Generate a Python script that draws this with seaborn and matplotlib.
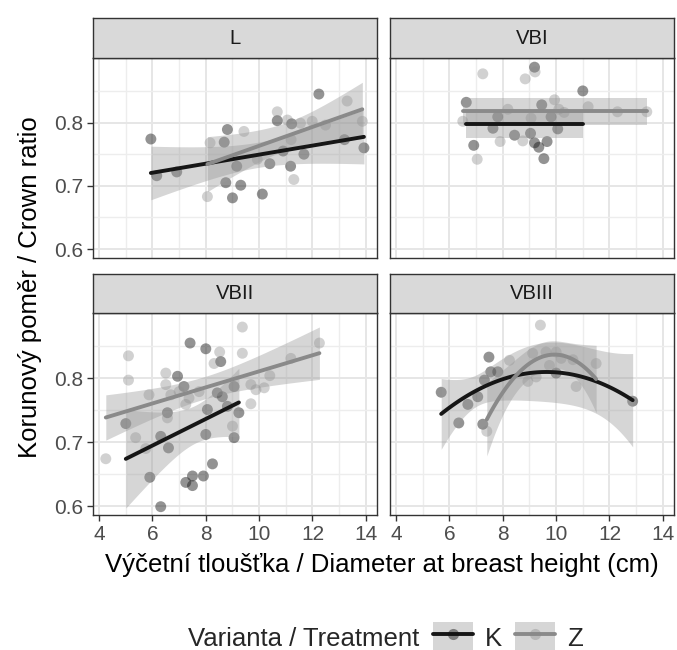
import numpy as np
import pandas as pd
import matplotlib
matplotlib.use("Agg")
import matplotlib.pyplot as plt
import seaborn as sns
from matplotlib.lines import Line2D
from matplotlib.patches import Patch
from matplotlib.legend_handler import HandlerTuple

# ---------------- data ----------------
panels = ["L", "VBI", "VBII", "VBIII"]
treatments = ["K", "Z"]

L_K_x = [5.94, 6.16, 6.91, 8.69, 8.81, 8.75, 9.31, 9.0, 9.16, 10.12, 10.4, 10.68, 10.9, 11.22, 11.18, 11.68, 12.24, 13.2, 13.93]
L_K_y = [0.774, 0.716, 0.722, 0.769, 0.789, 0.705, 0.701, 0.681, 0.731, 0.687, 0.735, 0.803, 0.755, 0.798, 0.731, 0.750, 0.845, 0.773, 0.760]
L_Z_x = [8.06, 8.16, 9.43, 9.93, 10.68, 11.06, 11.55, 11.3, 11.99, 12.49, 13.3, 11.2, 13.87]
L_Z_y = [0.683, 0.768, 0.786, 0.742, 0.817, 0.804, 0.799, 0.710, 0.802, 0.796, 0.834, 0.773, 0.802]

VBI_K_x = [9.19, 11.0, 6.63, 9.46, 9.81, 7.81, 7.63, 10.06, 8.44, 9.04, 6.91, 9.19, 9.66, 9.35, 9.54]
VBI_K_y = [0.8875, 0.850, 0.832, 0.828, 0.809, 0.809, 0.791, 0.790, 0.780, 0.783, 0.764, 0.768, 0.770, 0.761, 0.743]
VBI_Z_x = [9.21, 7.25, 8.84, 9.94, 8.19, 10.1, 10.3, 11.2, 12.3, 13.4, 6.5, 9.06, 8.75, 7.9, 7.04]
VBI_Z_y = [0.880, 0.877, 0.869, 0.836, 0.821, 0.821, 0.816, 0.825, 0.817, 0.817, 0.802, 0.807, 0.771, 0.770, 0.742]

VBII_K_x = [7.41, 8.0, 8.56, 6.94, 7.18, 8.43, 8.62, 9.06, 8.81, 8.06, 9.24, 6.56, 5.0, 6.31, 6.6, 8.0, 9.06, 8.25, 5.9, 7.5, 7.25, 7.91, 7.5, 6.31]
VBII_K_y = [0.855, 0.846, 0.826, 0.803, 0.787, 0.777, 0.771, 0.787, 0.756, 0.751, 0.746, 0.746, 0.729, 0.709, 0.691, 0.712, 0.707, 0.666, 0.645, 0.647, 0.637, 0.647, 0.632, 0.599]
VBII_Z_x = [9.37, 8.52, 9.37, 5.10, 8.31, 12.26, 11.19, 6.5, 5.10, 6.5, 6.69, 7.0, 7.37, 7.75, 5.87, 9.69, 10.19, 10.4, 9.88, 9.69, 7.25, 5.37, 6.56, 5.75, 9.0, 4.25]
VBII_Z_y = [0.880, 0.841, 0.839, 0.835, 0.823, 0.855, 0.831, 0.808, 0.797, 0.790, 0.774, 0.779, 0.769, 0.779, 0.774, 0.790, 0.785, 0.804, 0.782, 0.760, 0.759, 0.707, 0.738, 0.690, 0.725, 0.674]

VBIII_K_x = [5.69, 6.35, 6.69, 7.06, 7.25, 7.31, 7.48, 7.55, 7.81, 10.0, 12.87]
VBIII_K_y = [0.778, 0.730, 0.759, 0.771, 0.728, 0.797, 0.833, 0.810, 0.810, 0.808, 0.764]
VBIII_Z_x = [7.40, 8.25, 8.94, 9.12, 9.25, 9.41, 9.62, 10.0, 10.19, 10.63, 10.75, 11.5, 9.75]
VBIII_Z_y = [0.717, 0.828, 0.795, 0.839, 0.802, 0.883, 0.841, 0.841, 0.831, 0.829, 0.787, 0.823, 0.820]

x_ticks = [4, 6, 8, 10, 12, 14]
y_ticks = [0.6, 0.7, 0.8]
x_title = "Výčetní tloušťka / Diameter at breast height (cm)"
y_title = "Korunový poměr / Crown ratio"
legend_title = "Varianta / Treatment"

series = {
    ("L", "K"): (L_K_x, L_K_y), ("L", "Z"): (L_Z_x, L_Z_y),
    ("VBI", "K"): (VBI_K_x, VBI_K_y), ("VBI", "Z"): (VBI_Z_x, VBI_Z_y),
    ("VBII", "K"): (VBII_K_x, VBII_K_y), ("VBII", "Z"): (VBII_Z_x, VBII_Z_y),
    ("VBIII", "K"): (VBIII_K_x, VBIII_K_y), ("VBIII", "Z"): (VBIII_Z_x, VBIII_Z_y),
}
rows = []
for (p, t), (xs, ys) in series.items():
    for xv, yv in zip(xs, ys):
        rows.append({"panel": p, "trt": t, "dbh": xv, "cr": yv})
df = pd.DataFrame(rows)

# smoother type per panel (0 = constant, 1 = linear, 2 = quadratic)
fit_order = {"L": 1, "VBI": 0, "VBII": 1, "VBIII": 2}


def smooth_fit(x, y, order, grid):
    """Least-squares polynomial fit with a 95 % confidence band."""
    x = np.asarray(x, float)
    y = np.asarray(y, float)
    X = np.vander(x, order + 1)
    beta, *_ = np.linalg.lstsq(X, y, rcond=None)
    resid = y - X @ beta
    dof = len(x) - (order + 1)
    s2 = resid @ resid / dof
    cov = np.linalg.inv(X.T @ X) * s2
    G = np.vander(grid, order + 1)
    yhat = G @ beta
    se = np.sqrt(np.einsum("ij,jk,ik->i", G, cov, G))
    tq = 1.96 + 2.37 / dof + 2.8 / dof ** 2
    return yhat, yhat - tq * se, yhat + tq * se


# ---------------- style ----------------
sns.set_theme(style="white")
plt.rcParams["font.family"] = ["Liberation Sans", "DejaVu Sans"]

pt_color = {"K": "#111111", "Z": "#888888"}
pt_alpha = {"K": 0.45, "Z": 0.38}
ln_color = {"K": "#161616", "Z": "#8a8a8a"}
band_color = "#999999"
LW = 2.8

W, H = 677, 650
fig = plt.figure(figsize=(W / 100, H / 100), dpi=100)


def rect(left, top, w, h):
    return [left / W, 1 - (top + h) / H, w / W, h / H]


layout = {
    "L": (93, 58, 284, 200, 18),
    "VBI": (390, 58, 284, 200, 18),
    "VBII": (93, 313, 284, 202, 274),
    "VBIII": (390, 313, 284, 202, 274),
}

for p in panels:
    left, top, w, h, stop = layout[p]
    ax = fig.add_axes(rect(left, top, w, h))
    sub = df[df.panel == p]
    ax.set_xticks(x_ticks)
    ax.set_xticks([5, 7, 9, 11, 13], minor=True)
    ax.set_yticks(y_ticks)
    ax.set_yticks([0.65, 0.75, 0.85], minor=True)
    ax.grid(True, which="major", color="#e6e6e6", lw=1.4)
    ax.grid(True, which="minor", color="#ededed", lw=1.0)
    ax.set_axisbelow(True)

    for t in treatments:
        s = sub[sub.trt == t]
        sns.scatterplot(data=s, x="dbh", y="cr", ax=ax, color=pt_color[t],
                        alpha=pt_alpha[t], s=62, edgecolor="none", legend=False, zorder=2)
    for t in treatments:
        s = sub[sub.trt == t]
        grid = np.linspace(s.dbh.min(), s.dbh.max(), 120)
        yhat, lo, hi = smooth_fit(s.dbh, s.cr, fit_order[p], grid)
        ax.fill_between(grid, lo, hi, color=band_color, alpha=0.4, lw=0, zorder=2.5)
        sns.lineplot(x=grid, y=yhat, ax=ax, color=ln_color[t], lw=LW, zorder=3)

    ax.set_xlabel("")
    ax.set_ylabel("")
    for sp in ax.spines.values():
        sp.set_color("#333333")
        sp.set_linewidth(1.0)
    ax.tick_params(which="major", length=4.5, width=1, color="#333333",
                   labelsize=15, labelcolor="#4d4d4d", direction="out",
                   left=True, bottom=True)
    ax.tick_params(axis="x", which="major", pad=3)
    ax.tick_params(axis="y", which="major", pad=2.5)
    ax.tick_params(which="minor", length=0)
    ax.set_xlim(3.77, 14.42)
    ax.set_ylim(0.586, 0.902)
    if p in ("L", "VBI"):
        ax.tick_params(axis="x", which="major", labelbottom=False, length=0)
    if p in ("VBI", "VBIII"):
        ax.tick_params(axis="y", which="major", labelleft=False, length=0)
    if p in ("L", "VBII"):
        ax.set_yticklabels([f"{v:.1f}" for v in y_ticks])

    # strip
    sax = fig.add_axes(rect(left, stop, w, top - stop))
    sax.set_facecolor("#d9d9d9")
    sax.set_xticks([])
    sax.set_yticks([])
    for sp in sax.spines.values():
        sp.set_color("#333333")
        sp.set_linewidth(1.0)
    sax.text(0.5, 0.5, p, ha="center", va="center", fontsize=14.6,
             color="#1a1a1a", transform=sax.transAxes)

fig.text((100 + 663) / 2 / W, 1 - 565 / H, x_title, ha="center", va="center",
         fontsize=18.5, color="black")
fig.text(30 / W, 1 - 287 / H, y_title, ha="center", va="center", rotation=90,
         fontsize=18.5, color="black")

# legend
fig.text(188 / W, 1 - 639 / H, legend_title, ha="left", va="center", fontsize=18.5)
handles = []
for t in treatments:
    band = Patch(facecolor=band_color, alpha=0.4, edgecolor="none")
    mfc = matplotlib.colors.to_rgba(pt_color[t], pt_alpha[t])
    ln = Line2D([], [], color=ln_color[t], lw=LW, marker="o", markersize=8,
                markerfacecolor=mfc, markeredgecolor="none")
    handles.append((band, ln))
leg = fig.legend(handles, treatments, handler_map={tuple: HandlerTuple(ndivide=1, pad=0)},
                 loc="center left", bbox_to_anchor=(433 / W, 1 - 637 / H), ncol=2,
                 frameon=False, fontsize=18.5, handlelength=1.56, handleheight=1.4,
                 columnspacing=0.5, handletextpad=0.47, borderaxespad=0, borderpad=0)

fig.savefig("out.png", dpi=100)
